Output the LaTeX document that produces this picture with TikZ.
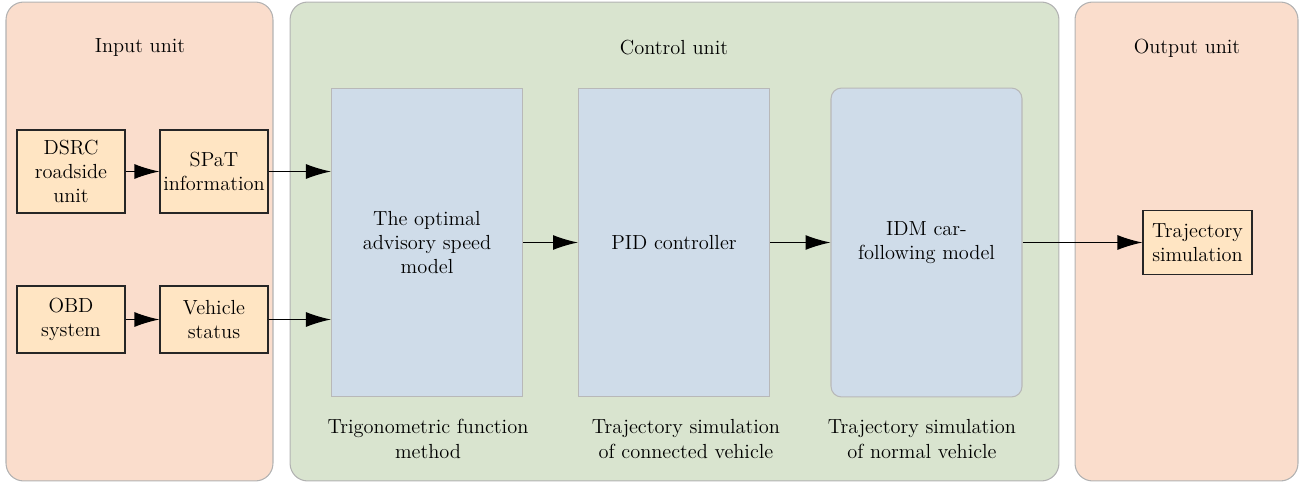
\documentclass[tikz,border=0pt]{standalone}
\usetikzlibrary{arrows.meta,positioning}
\definecolor{unitorange}{HTML}{FADDCC}
\definecolor{unitgreen}{HTML}{D9E4CF}
\definecolor{modelblue}{HTML}{CFDCE9}
\definecolor{boxyellow}{HTML}{FFE5C3}

\begin{document}
\begin{tikzpicture}[x=0.02cm,y=-0.02cm]
		\tikzstyle{every node}=[font=\fontsize{11.6}{13.8}\selectfont, align=center]
		\tikzstyle{unit}=[draw=black!30, line width=0.6pt, rounded corners=10pt, minimum height=9.58cm]
		\tikzstyle{model}=[draw=black!28, line width=0.6pt, fill=modelblue, minimum width=3.82cm, minimum height=6.18cm]
		\tikzstyle{sbox}=[draw=black!85, line width=0.65pt, fill=boxyellow, minimum width=2.16cm, inner sep=1pt]
		\tikzstyle{flow}=[line width=0.75pt, -{Latex[length=0.5cm, width=0.3cm]}]
		\useasboundingbox (0,0) rectangle (1309,483);
		% the three units
		\node [unit, fill=unitorange, minimum width=5.34cm] (input) at (139.5,241.5) {};
		\node [unit, fill=unitgreen, minimum width=15.38cm] (control) at (674.5,241.5) {};
		\node [unit, fill=unitorange, minimum width=4.46cm] (output) at (1186.5,241.5) {};
		\node at (140,48) {Input unit};
		\node at (674,48) {Control unit};
		\node at (1187,48) {Output unit};
		% input side
		\node [sbox, minimum height=1.66cm] (dsrc) at (71,171.5) {DSRC\\roadside\\unit};
		\node [sbox, minimum height=1.66cm] (spat) at (214,171.5) {SPaT\\information};
		\node [sbox, minimum height=1.34cm] (obd) at (71,319.5) {OBD\\system};
		\node [sbox, minimum height=1.34cm] (status) at (214,319.5) {Vehicle\\status};
		% models
		\node [model] (speed) at (427,242.5) {The optimal\\advisory speed\\model};
		\node [model] (pid) at (674,242.5) {PID controller};
		\node [model, rounded corners=6pt] (idm) at (926.5,242.5) {IDM car-\\following model};
		\node at (428,439) {Trigonometric function\\method};
		\node at (686,439) {Trajectory simulation\\of connected vehicle};
		\node at (922,439) {Trajectory simulation\\of normal vehicle};
		% output side
		\node [sbox, minimum width=2.18cm, minimum height=1.28cm] (traj) at (1197.5,242.5) {Trajectory\\simulation};
		% connectors
		\draw [flow] (dsrc) -- (spat);
		\draw [flow] (obd) -- (status);
		\draw [flow] (spat.east) -- (spat.east -| speed.west);
		\draw [flow] (status.east) -- (status.east -| speed.west);
		\draw [flow] (speed) -- (pid);
		\draw [flow] (pid) -- (idm);
		\draw [flow] (idm) -- (traj);
	\end{tikzpicture}
\end{document}
